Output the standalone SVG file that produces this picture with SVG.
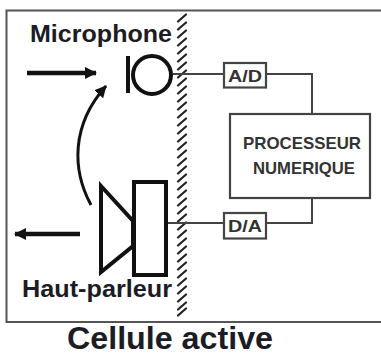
<svg xmlns="http://www.w3.org/2000/svg" width="381" height="356" viewBox="0 0 381 356">
<style>
text{font-family:"Liberation Sans",Arial,sans-serif;font-weight:bold;fill:#1c1c24}
.t{fill:none;stroke:#444;stroke-width:2}
.b{fill:#fff;stroke:#444;stroke-width:2.2}
.k{fill:none;stroke:#111;stroke-width:4}
.h{stroke:#222;stroke-width:2.200;stroke-linecap:round}
.s{font-size:17px;fill:#333}
</style>
<defs>
<marker id="ah" markerUnits="userSpaceOnUse" markerWidth="14" markerHeight="14" refX="11" refY="7" orient="auto"><path d="M0 1L12 7L0 13Z" fill="#111"/></marker>
<path id="hs" d="M-4 3.500L4 -3.500" class="h"/>
</defs>
<rect width="381" height="356" fill="#fff"/>
<g id="cellule">
<path d="M381 10.500H6.500V322H381" fill="none" stroke="#555" stroke-width="2"/>
</g>
<g id="paroi">
<use href="#hs" x="182" y="18"/><use href="#hs" x="182" y="26"/><use href="#hs" x="182" y="34"/><use href="#hs" x="182" y="42"/><use href="#hs" x="182" y="50"/><use href="#hs" x="182" y="58"/><use href="#hs" x="182" y="66"/><use href="#hs" x="182" y="74"/><use href="#hs" x="182" y="82"/><use href="#hs" x="182" y="90"/><use href="#hs" x="182" y="98"/><use href="#hs" x="182" y="106"/><use href="#hs" x="182" y="114"/><use href="#hs" x="182" y="122"/><use href="#hs" x="182" y="130"/><use href="#hs" x="182" y="138"/><use href="#hs" x="182" y="146"/><use href="#hs" x="182" y="154"/><use href="#hs" x="182" y="162"/><use href="#hs" x="182" y="170"/><use href="#hs" x="182" y="178"/><use href="#hs" x="182" y="186"/><use href="#hs" x="182" y="194"/><use href="#hs" x="182" y="202"/><use href="#hs" x="182" y="210"/><use href="#hs" x="182" y="218"/><use href="#hs" x="182" y="226"/><use href="#hs" x="182" y="234"/><use href="#hs" x="182" y="242"/><use href="#hs" x="182" y="250"/><use href="#hs" x="182" y="258"/><use href="#hs" x="182" y="266"/><use href="#hs" x="182" y="274"/><use href="#hs" x="182" y="282"/><use href="#hs" x="182" y="290"/><use href="#hs" x="182" y="298"/><use href="#hs" x="182" y="306"/><use href="#hs" x="182" y="312"/>
</g>
<g id="connectors">
<path class="t" d="M173 74H224M266 74H312V114M312 198V223H266M224 223H167"/>
<path d="M27 73H96" fill="none" stroke="#111" stroke-width="4.500" marker-end="url(#ah)"/>
<path d="M80 234H15" fill="none" stroke="#111" stroke-width="4.500" marker-end="url(#ah)"/>
<path d="M91 205C72 170 71 125 106 86" fill="none" stroke="#111" stroke-width="3" marker-end="url(#ah)"/>
</g>
<g id="microphone">
<path d="M128 56V93" class="k"/>
<circle cx="152" cy="75" r="19" class="k"/>
<text x="30" y="42" font-size="24.500" textLength="142" lengthAdjust="spacingAndGlyphs">Microphone</text>
</g>
<g id="haut-parleur">
<path d="M101 186L133 221V246L101 272Z" class="k"/>
<rect x="134" y="182" width="32" height="93" class="k"/>
<text x="22" y="297" font-size="24" textLength="150" lengthAdjust="spacingAndGlyphs">Haut-parleur</text>
</g>
<g id="ad">
<rect x="224" y="63" width="42" height="24.500" class="b"/>
<text x="228" y="82" class="s" textLength="34" lengthAdjust="spacingAndGlyphs">A/D</text>
</g>
<g id="da">
<rect x="224" y="213" width="42" height="25.500" class="b"/>
<text x="228" y="232" class="s" textLength="34" lengthAdjust="spacingAndGlyphs">D/A</text>
</g>
<g id="processeur">
<rect x="230" y="114" width="140" height="84" class="b"/>
<text x="243" y="149" class="s" textLength="118" lengthAdjust="spacingAndGlyphs">PROCESSEUR</text>
<text x="253" y="174" class="s" textLength="102" lengthAdjust="spacingAndGlyphs">NUMERIQUE</text>
</g>
<text id="titre" x="67" y="349" font-size="31" textLength="206" lengthAdjust="spacingAndGlyphs">Cellule active</text>
</svg>
